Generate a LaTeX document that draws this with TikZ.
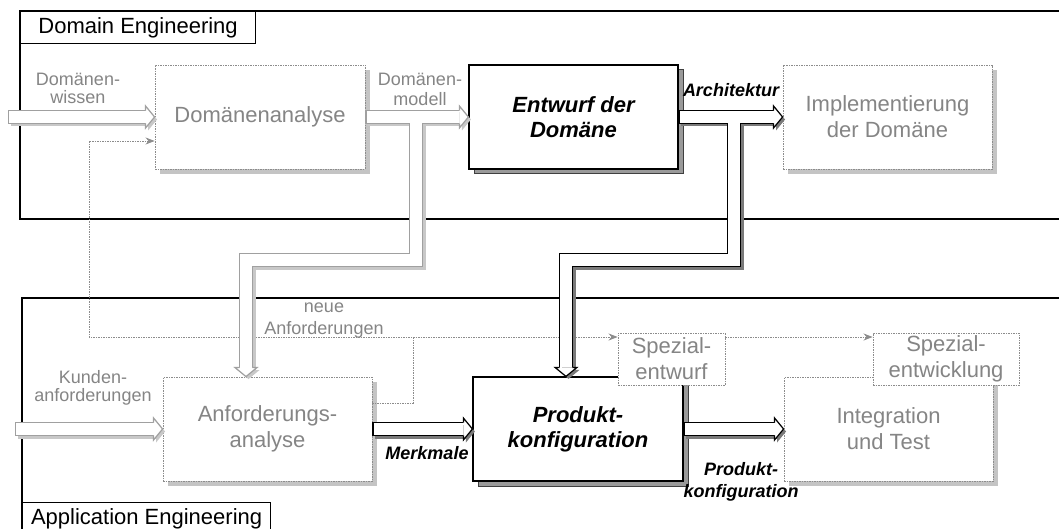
\documentclass[tikz,border=0pt]{standalone}
\usepackage{fontspec}
\setmainfont{Liberation Sans}
\usetikzlibrary{arrows.meta,shadows,calc}

\definecolor{fadetext}{HTML}{858585}
\definecolor{fadeline}{HTML}{8C8C8C}
\definecolor{fadeshadow}{HTML}{C4C4C4}
\definecolor{darkshadow}{HTML}{9A9A9A}
\definecolor{arrowshadow}{HTML}{7A7A7A}
\definecolor{fadearrow}{HTML}{A0A0A0}
\definecolor{fadearrowshadow}{HTML}{C8C8C8}

% arrow heads of the wide hollow arrows
\newcommand\headright[3]{%
  \begin{scope}[shift={(#1)}]
    \fill[#3] (-6.5,-3.9) -- (-6.5,-8.5) -- (2.5,2.5) -- (-6.5,13.5) -- (-6.5,8.9) -- cycle;
    \filldraw[fill=white, draw=#2, line width=1.2pt, line join=miter]
      (-9,-6.4) -- (-9,-11) -- (0,0) -- (-9,11) -- (-9,6.4);
  \end{scope}}
\newcommand\headdown[3]{%
  \begin{scope}[shift={(#1)}]
    \fill[#3] (-3.9,-6.5) -- (-8.5,-6.5) -- (2.5,2.5) -- (13.5,-6.5) -- (8.9,-6.5) -- cycle;
    \filldraw[fill=white, draw=#2, line width=1.2pt, line join=miter]
      (-6.4,-9) -- (-11,-9) -- (0,0) -- (11,-9) -- (6.4,-9);
  \end{scope}}

\tikzset{
  frameline/.style={line width=1.2pt, draw=black},
  framelabel/.style={draw, line width=1.2pt, fill=white, inner sep=0pt,
    anchor=north west, font=\fontsize{22}{24}\selectfont},
  fadebox/.style={draw=fadeline, dash pattern=on 1.5pt off 1pt, line width=0.9pt,
    fill=white, text=fadetext, align=center, inner sep=0pt,
    font=\fontsize{22}{26}\selectfont},
  fadeshadowbox/.style={fadebox,
    general shadow={fill=fadeshadow, shadow xshift=5pt, shadow yshift=-5pt}},
  mainbox/.style={draw=black, line width=1.2pt, fill=white, align=center, inner sep=0pt,
    font=\bfseries\itshape\fontsize{22}{25}\selectfont,
    general shadow={fill=darkshadow, draw=black!75, line width=1pt,
      shadow xshift=5pt, shadow yshift=-5pt}},
  fadelabel/.style={text=fadetext, align=center, inner sep=0pt,
    font=\fontsize{18}{18}\selectfont},
  boldlabel/.style={align=center, inner sep=0pt,
    font=\bfseries\itshape\fontsize{18}{22}\selectfont},
  feedback/.style={draw=fadeline, line width=0.9pt, dash pattern=on 1.5pt off 1pt,
    -{Stealth[length=9pt,width=7pt,fill=fadeline]}},
  bshadow/.style={line width=14pt, line join=miter,
    transform canvas={xshift=2.5pt,yshift=-2.5pt}},
  bedge/.style={line width=14pt, line join=miter},
  bfill/.style={line width=11.6pt, line join=miter, draw=white, shorten <=1.2pt},
  tipped/.style={shorten >=9pt},
}

\begin{document}
\begin{tikzpicture}[x=1pt,y=-1pt]
\useasboundingbox (0,0) rectangle (1059,529);
\fill[white] (0,0) rectangle (1059,529);

% the two engineering areas
\draw[frameline] (1065,11) -- (20,11) -- (20,219) -- (1065,219);
\draw[frameline] (1065,298) -- (22,298) -- (22,535);
\node[framelabel, minimum width=235pt, minimum height=32pt] (dlab) at (20,11) {Domain Engineering};
\node[framelabel, minimum width=248pt, minimum height=32pt] (alab) at (22,502) {Application Engineering};

% activities
\node[fadeshadowbox, minimum width=210pt, minimum height=104pt] (da) at (260,117) {Domänenanalyse};
\node[mainbox, minimum width=209pt, minimum height=104pt] (ed) at (573.5,117) {Entwurf der\\Domäne};
\node[fadeshadowbox, minimum width=209pt, minimum height=104pt] (im) at (887.5,117) {Implementierung\\der Domäne};
\node[fadeshadowbox, minimum width=209pt, minimum height=104pt] (aa) at (267.5,429) {Anforderungs-\\analyse};
\node[mainbox, minimum width=210pt, minimum height=104pt] (pk) at (578,429) {Produkt-\\konfiguration};
\node[fadeshadowbox, minimum width=209pt, minimum height=104pt] (it) at (888.5,429) {Integration\\und Test};
\node[fadebox, minimum width=107pt, minimum height=52pt] (se) at (671.5,359) {Spezial-\\entwurf};
\node[fadebox, minimum width=146pt, minimum height=52pt] (sw) at (946,359) {Spezial-\\entwicklung};

% new requirements fed back and forward
\coordinate (nr) at (413,337);
\coordinate (nl) at (89,337);
\draw[feedback] ($(aa.east)+(0,-26)$) -| (nr) -- (nl) |- ($(da.west)+(0,24)$);
\draw[feedback] (nr) -- (se.west |- nr);
\draw[feedback] (se.east |- nr) -- (sw.west |- nr);

% wide hollow arrows
\coordinate (dwin) at (8,117);
\coordinate (kain) at (15,429);
\coordinate (b1s) at (416,117);
\coordinate (b1k) at (246,260);
\coordinate (b2s) at (734,117);
\coordinate (b2k) at (566,260);

% shadows
\draw[bshadow, fadearrowshadow, tipped] (dwin) -- (da.west);
\draw[bshadow, fadearrowshadow, tipped] (da.east) -- (ed.west);
\draw[bshadow, fadearrowshadow, tipped] (b1s) |- (b1k) -- (b1k |- aa.north);
\draw[bshadow, fadearrowshadow, tipped] (kain) -- (aa.west);
\draw[bshadow, arrowshadow, tipped] (ed.east) -- (im.west);
\draw[bshadow, arrowshadow, tipped] (b2s) |- (b2k) -- (b2k |- pk.north);
\draw[bshadow, arrowshadow, tipped] (aa.east) -- (pk.west);
\draw[bshadow, arrowshadow, tipped] (pk.east) -- (it.west);
% edges
\draw[bedge, fadearrow, tipped] (dwin) -- (da.west);
\draw[bedge, fadearrow, tipped] (da.east) -- (ed.west);
\draw[bedge, fadearrow, tipped] (b1s) |- (b1k) -- (b1k |- aa.north);
\draw[bedge, fadearrow, tipped] (kain) -- (aa.west);
\draw[bedge, black, tipped] (ed.east) -- (im.west);
\draw[bedge, black, tipped] (b2s) |- (b2k) -- (b2k |- pk.north);
\draw[bedge, black, tipped] (aa.east) -- (pk.west);
\draw[bedge, black, tipped] (pk.east) -- (it.west);
% insides
\draw[bfill, tipped] (dwin) -- (da.west);
\draw[bfill, tipped] (da.east) -- (ed.west);
\draw[bfill, tipped] (b1s) |- (b1k) -- (b1k |- aa.north);
\draw[bfill, tipped] (kain) -- (aa.west);
\draw[bfill, tipped] (ed.east) -- (im.west);
\draw[bfill, tipped] (b2s) |- (b2k) -- (b2k |- pk.north);
\draw[bfill, tipped] (aa.east) -- (pk.west);
\draw[bfill, tipped] (pk.east) -- (it.west);
% heads
\headright{da.west}{fadearrow}{fadearrowshadow}
\headright{ed.west}{fadearrow}{fadearrowshadow}
\headdown{b1k |- aa.north}{fadearrow}{fadearrowshadow}
\headright{aa.west}{fadearrow}{fadearrowshadow}
\headright{im.west}{black}{arrowshadow}
\headdown{b2k |- pk.north}{black}{arrowshadow}
\headright{pk.west}{black}{arrowshadow}
\headright{it.west}{black}{arrowshadow}

% flow labels
\node[fadelabel] (l1) at (78,88) {Domänen-\\wissen};
\node[fadelabel, font=\fontsize{18}{20}\selectfont] (l2) at (420,89) {Domänen-\\modell};
\node[fadelabel] (l3) at (93,387.5) {Kunden-\\anforderungen};
\node[fadelabel, font=\fontsize{18}{22}\selectfont] (l4) at (324,321) {neue\\Anforderungen};
\node[boldlabel] (l5) at (731,90.5) {Architektur};
\node[boldlabel] (l6) at (427,453.5) {Merkmale};
\node[boldlabel] (l7) at (741,481.5) {Produkt-\\konfiguration};
\end{tikzpicture}
\end{document}
